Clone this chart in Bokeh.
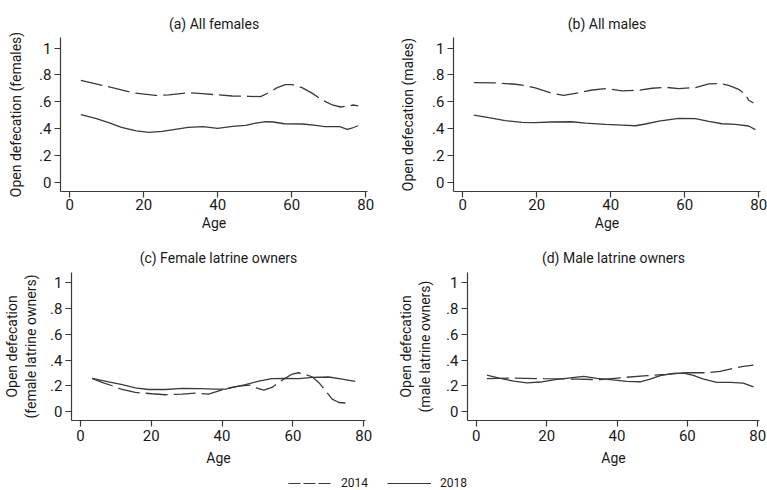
from bokeh.plotting import figure
from bokeh.layouts import column, row
from bokeh.models import Range1d, FixedTicker, Legend, LegendItem
from bokeh.embed import file_html
from bokeh.resources import INLINE

FONT = "Roboto"
LINE_COLOR = "#3a3a3a"
AXIS_COLOR = "#3a3a3a"
TEXT_COLOR = "#1a1a1a"

# ---------------- data ----------------
x_ticks = [0, 20, 40, 60, 80]
y_ticks = [0, 0.2, 0.4, 0.6, 0.8, 1.0]
y_tick_labels = ["0", ".2", ".4", ".6", ".8", "1"]
legend_labels = ["2014", "2018"]

panel_titles = ["(a) All females", "(b) All males",
                "(c) Female latrine owners", "(d) Male latrine owners"]
y_titles = ["Open defecation (females)", "Open defecation (males)",
            "Open defecation\n(female latrine owners)",
            "Open defecation\n(male latrine owners)"]
x_title = "Age"

# (a) all females
fem_age_2014 = [3, 9.6, 16.9, 23.2, 26.8, 32.2, 35.8, 40.3, 43.9, 48.4, 51.6, 53.8,
                56.1, 58.3, 60.1, 62.8, 65.6, 68.3, 71.0, 73.2, 75.5, 76.6, 78.0]
fem_od_2014 = [0.760, 0.718, 0.668, 0.648, 0.651, 0.668, 0.661, 0.651, 0.643, 0.641, 0.638, 0.668,
               0.706, 0.728, 0.728, 0.706, 0.663, 0.613, 0.576, 0.561, 0.569, 0.576, 0.569]
fem_age_2018 = [3, 7, 10.5, 14, 18, 21.5, 25, 28.5, 32, 36, 40, 44, 47.5, 50, 53, 55,
                58, 63, 66.5, 69, 73, 75, 76.5, 78]
fem_od_2018 = [0.504, 0.476, 0.444, 0.409, 0.382, 0.372, 0.379, 0.394, 0.409, 0.414, 0.401, 0.416,
               0.424, 0.439, 0.451, 0.449, 0.436, 0.434, 0.424, 0.414, 0.414, 0.394, 0.406, 0.421]

# (b) all males
mal_age_2014 = [3, 8.8, 14.2, 16.9, 19.6, 24.1, 27.3, 31.4, 35, 38.6, 40.4, 43.1, 47.6, 51.2,
                54.8, 58.4, 62.9, 66.5, 69.6, 71.9, 74.6, 76.4, 77.3, 78.6]
mal_od_2014 = [0.743, 0.741, 0.731, 0.721, 0.703, 0.663, 0.648, 0.668, 0.688, 0.698, 0.693, 0.681,
               0.686, 0.701, 0.708, 0.698, 0.706, 0.733, 0.736, 0.723, 0.693, 0.656, 0.611, 0.591]
mal_age_2018 = [3, 7, 11.5, 16, 19.6, 24.1, 29.5, 33.2, 38.6, 43.1, 46.7, 49.4, 53, 58.4,
                62.9, 66.5, 70.1, 73.7, 77.3, 79.1]
mal_od_2018 = [0.501, 0.481, 0.459, 0.446, 0.444, 0.449, 0.451, 0.441, 0.431, 0.426, 0.421, 0.434,
               0.456, 0.476, 0.474, 0.454, 0.436, 0.431, 0.419, 0.392]

# (c) female latrine owners
fown_age_2014 = [3.3, 6.1, 9, 11.8, 15.5, 20.2, 24, 28.7, 32.5, 36.2, 39.1, 41.9, 44.7, 48,
                 49.9, 51.8, 54.1, 57, 59.8, 61.6, 63.5, 65.4, 67.3, 69.2, 71.1, 73, 75.3]
fown_od_2014 = [0.257, 0.226, 0.200, 0.171, 0.148, 0.138, 0.130, 0.135, 0.143, 0.135, 0.161, 0.184,
                0.197, 0.205, 0.182, 0.166, 0.187, 0.244, 0.291, 0.301, 0.288, 0.270, 0.226, 0.161,
                0.096, 0.070, 0.065]
fown_age_2018 = [3.3, 8, 11.8, 15.5, 19.3, 24, 28.7, 33.4, 38.1, 41, 43.8, 46.6, 50.4, 54.1,
                 57.9, 61.6, 65.4, 70.1, 73.9, 77.6]
fown_od_2018 = [0.257, 0.231, 0.208, 0.184, 0.171, 0.171, 0.179, 0.177, 0.174, 0.174, 0.192, 0.208,
                0.236, 0.255, 0.257, 0.255, 0.265, 0.268, 0.252, 0.234]

# (d) male latrine owners
mown_age_2014 = [3, 9.7, 19.1, 28.6, 35.2, 40.9, 48.5, 54.2, 59.8, 65.5, 69.3, 73.1, 75.9, 78.8]
mown_od_2014 = [0.255, 0.260, 0.255, 0.252, 0.247, 0.262, 0.278, 0.288, 0.301, 0.301, 0.312, 0.335,
                0.351, 0.361]
mown_age_2018 = [3, 6.8, 10.6, 14.4, 18.2, 22.9, 26.7, 30.5, 34.3, 38.1, 42.8, 46.6, 49.4, 52.3,
                 56, 58.9, 61.7, 64.6, 68.4, 72.2, 75.9, 78.8]
mown_od_2018 = [0.283, 0.257, 0.236, 0.223, 0.229, 0.249, 0.262, 0.273, 0.257, 0.247, 0.234, 0.231,
                0.252, 0.278, 0.296, 0.299, 0.281, 0.252, 0.226, 0.226, 0.221, 0.192]

DASH_2014 = "22 6"
X_LO, X_HI = -2.5, 80.5
Y_LO, Y_HI = -0.07, 1.08


def make_panel(title, ytitle, age14, od14, age18, od18, width, height,
               mb_left, mb_right, mb_top, mb_bottom, title_offset, title_standoff,
               x_label_standoff, x_title_standoff, y_title_standoff):
    p = figure(width=width, height=height, output_backend="svg", toolbar_location=None,
               x_range=Range1d(X_LO, X_HI), y_range=Range1d(Y_LO, Y_HI),
               min_border_left=mb_left, min_border_right=mb_right,
               min_border_top=mb_top, min_border_bottom=mb_bottom)
    p.outline_line_color = None
    p.grid.visible = False
    p.background_fill_color = "white"
    p.border_fill_color = "white"

    p.title.text = title
    p.title.align = "center"
    p.title.offset = title_offset
    p.title.standoff = title_standoff
    p.title.text_font = FONT
    p.title.text_font_size = "14px"
    p.title.text_font_style = "normal"
    p.title.text_color = TEXT_COLOR

    p.line(age14, od14, line_color=LINE_COLOR, line_width=1.3, line_dash=DASH_2014)
    p.line(age18, od18, line_color=LINE_COLOR, line_width=1.3)

    for ax in (p.xaxis[0], p.yaxis[0]):
        ax.axis_line_color = AXIS_COLOR
        ax.axis_line_width = 1.2
        ax.major_tick_line_color = AXIS_COLOR
        ax.major_tick_line_width = 1.2
        ax.major_tick_in = 0
        ax.major_tick_out = 6
        ax.minor_tick_line_color = None
        ax.major_label_text_font = FONT
        ax.major_label_text_font_size = "15px"
        ax.major_label_text_color = TEXT_COLOR
        ax.axis_label_text_font = FONT
        ax.axis_label_text_font_size = "14px"
        ax.axis_label_text_font_style = "normal"
        ax.axis_label_text_color = TEXT_COLOR

    p.xaxis.ticker = FixedTicker(ticks=x_ticks)
    p.xaxis.axis_label = x_title
    p.xaxis.major_label_standoff = x_label_standoff
    p.xaxis.axis_label_standoff = x_title_standoff

    p.yaxis.ticker = FixedTicker(ticks=y_ticks)
    p.yaxis.major_label_overrides = {t: l for t, l in zip(y_ticks, y_tick_labels)}
    p.yaxis.major_label_orientation = "horizontal"
    p.yaxis.axis_label = ytitle
    p.yaxis.major_label_standoff = 3
    p.yaxis.axis_label_standoff = y_title_standoff
    return p


# row 1: 240 px tall, row 2: 236 px tall, legend strip: 14 px tall (total 490)
pa = make_panel(panel_titles[0], y_titles[0], fem_age_2014, fem_od_2014, fem_age_2018, fem_od_2018,
                390, 240, 60, 23, 37, 49, -2, 12, 1, 2, 12)
pb = make_panel(panel_titles[1], y_titles[1], mal_age_2014, mal_od_2014, mal_age_2018, mal_od_2018,
                377, 240, 63, 7, 37, 49, -4, 12, 1, 2, 13)
pc = make_panel(panel_titles[2], y_titles[2], fown_age_2014, fown_od_2014, fown_age_2018, fown_od_2018,
                390, 236, 71, 25, 32, 56, -20, 14, 3, 6, 8)
pd_ = make_panel(panel_titles[3], y_titles[3], mown_age_2014, mown_od_2014, mown_age_2018, mown_od_2018,
                 377, 236, 77, 8, 32, 56, -2, 14, 3, 6, 10)

# legend strip: the sample renderers sit outside the visible range, only the legend shows
pl = figure(width=767, height=14, output_backend="svg", toolbar_location=None,
            x_axis_type=None, y_axis_type=None,
            x_range=Range1d(X_LO, X_HI), y_range=Range1d(10, 11),
            min_border_left=0, min_border_right=0, min_border_top=0, min_border_bottom=0)
pl.outline_line_color = None
pl.grid.visible = False
r14 = pl.line(fem_age_2014, fem_od_2014, line_color=LINE_COLOR, line_width=1.2, line_dash="12 3")
r18 = pl.line(fem_age_2018, fem_od_2018, line_color=LINE_COLOR, line_width=1.2)
leg = Legend(items=[LegendItem(label=legend_labels[0], renderers=[r14]),
                    LegendItem(label=legend_labels[1], renderers=[r18])],
             orientation="horizontal", location=(288, 0))
leg.border_line_color = None
leg.background_fill_alpha = 0
leg.padding = 0
leg.margin = 0
leg.spacing = 19
leg.glyph_width = 44
leg.glyph_height = 14
leg.label_height = 14
leg.label_standoff = 9
leg.label_text_font = FONT
leg.label_text_font_size = "12px"
leg.label_text_color = TEXT_COLOR
pl.add_layout(leg, "center")

layout = column(row(pa, pb), row(pc, pd_), pl)

open("out.html", "w").write(file_html(layout, INLINE))
